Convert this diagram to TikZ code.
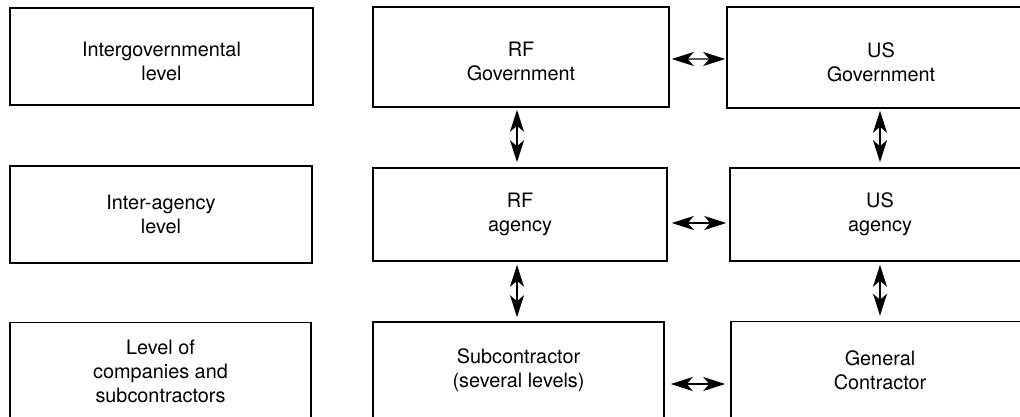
\documentclass[tikz,border=0pt]{standalone}
\usepackage{fontspec}
\setmainfont{TeX Gyre Heros}
\usetikzlibrary{positioning,calc}
\usetikzlibrary{arrows.meta}
\newcommand{\lowstrut}{\rule{0pt}{13.8pt}}
\tikzset{
  box/.style={draw=black,line width=0.9pt,align=center,inner sep=2pt,
    font=\fontsize{11.3}{13.7}\selectfont},
  link/.style={draw=black,line width=0.75pt,
    {Stealth[length=0.44cm,width=0.28cm,inset=0.12cm]}-{Stealth[length=0.44cm,width=0.28cm,inset=0.12cm]}},
}
\begin{document}
\begin{tikzpicture}[x=0.02cm,y=-0.02cm]
  \useasboundingbox (0,0) rectangle (1020,416);
  % level labels
  \node[box,minimum width=6.06cm,minimum height=1.94cm] (lvlgov) at (161.5,56.5)
    {\lowstrut Intergovernmental\\level};
  \node[box,minimum width=6.04cm,minimum height=1.94cm] (lvlagency) at (161,214.5)
    {Inter-agency\\level};
  \node[box,minimum width=6.02cm,minimum height=1.94cm] (lvlcomp) at (160.5,371)
    {Level of\\companies and\\subcontractors};
  % RF side
  \node[box,minimum width=5.92cm,minimum height=2cm] (rfgov) at (521,57)
    {\lowstrut RF\\Government};
  \node[box,minimum width=5.88cm,minimum height=1.86cm] (rfagency) at (520,214.5)
    {RF\\agency};
  \node[box,minimum width=5.82cm,minimum height=1.92cm] (subcon) at (518.5,370)
    {Subcontractor\\(several levels)};
  % US side
  \node[box,minimum width=6.16cm,minimum height=2.02cm] (usgov) at (881,57.5)
    {\lowstrut US\\Government};
  \node[box,minimum width=6cm,minimum height=1.86cm] (usagency) at (880,214.5)
    {US\\agency};
  \node[box,minimum width=5.96cm,minimum height=1.94cm] (gencon) at (880,370)
    {General\\Contractor};
  % links
  \draw[link] ($(rfgov.east)+(2,2)$) -- ($(usgov.west)+(-1,1.5)$);
  \draw[link] ($(rfagency.east)+(4,8.5)$) -- ($(usagency.west)+(-3,8.5)$);
  \draw[link] ($(subcon.east)+(6,14)$) -- ($(gencon.west)+(-5,14)$);
  \draw[link] ($(rfgov.south)+(-4,2)$) -- ($(rfagency.north)+(-3,-5)$);
  \draw[link] ($(usgov.south)+(-1,2)$) -- ($(usagency.north)+(0,-5)$);
  \draw[link] ($(rfagency.south)+(-3,3)$) -- ($(subcon.north)+(-1.5,-4)$);
  \draw[link] ($(usagency.south)+(0,3)$) -- ($(gencon.north)+(0,-5)$);
\end{tikzpicture}
\end{document}
